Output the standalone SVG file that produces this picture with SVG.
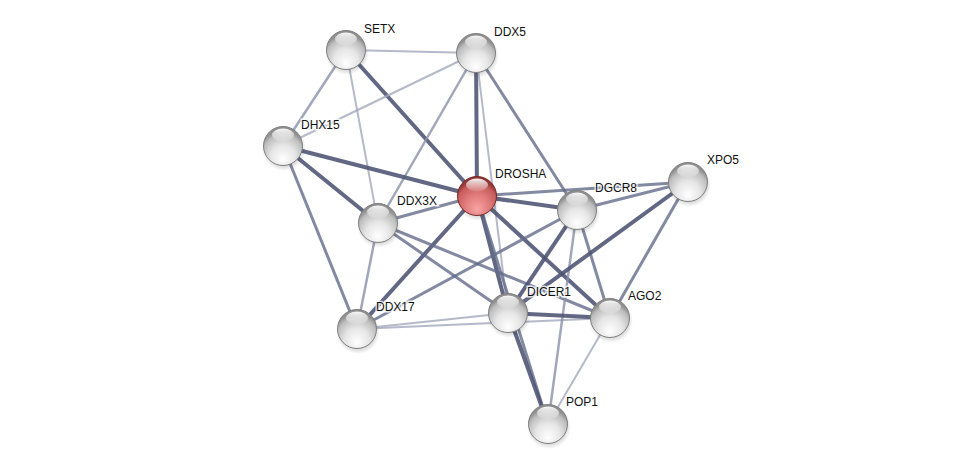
<svg xmlns="http://www.w3.org/2000/svg" width="976" height="469" viewBox="0 0 976 469">
<defs>
<radialGradient id="gGray" cx="50%" cy="72%" r="62%" fx="50%" fy="85%">
<stop offset="0" stop-color="#ffffff"/>
<stop offset="0.5" stop-color="#e6e6e6"/>
<stop offset="0.85" stop-color="#bdbdbd"/>
<stop offset="1" stop-color="#8f8f8f"/>
</radialGradient>
<radialGradient id="gRed" cx="50%" cy="72%" r="62%" fx="50%" fy="85%">
<stop offset="0" stop-color="#f7a4a4"/>
<stop offset="0.5" stop-color="#e27c7c"/>
<stop offset="0.85" stop-color="#c75c5c"/>
<stop offset="1" stop-color="#923636"/>
</radialGradient>
<linearGradient id="gHi" x1="0" y1="0" x2="0" y2="1">
<stop offset="0" stop-color="#ffffff" stop-opacity="0.95"/>
<stop offset="1" stop-color="#ffffff" stop-opacity="0.1"/>
</linearGradient>
<radialGradient id="gShadow" cx="50%" cy="50%" r="50%">
<stop offset="0.6" stop-color="#000" stop-opacity="0.25"/>
<stop offset="1" stop-color="#000" stop-opacity="0"/>
</radialGradient>
<g id="sphere">
<circle cx="1" cy="3" r="22" fill="url(#gShadow)"/>
<circle r="19.5" fill="url(#gGray)" stroke="#808080" stroke-width="1"/>
<ellipse cx="0" cy="-11" rx="11" ry="6.5" fill="url(#gHi)"/>
</g>
<g id="sphereRed">
<circle cx="1" cy="3" r="22" fill="url(#gShadow)"/>
<circle r="19.5" fill="url(#gRed)" stroke="#7a2a2a" stroke-width="1"/>
<ellipse cx="0" cy="-11" rx="11" ry="6.5" fill="url(#gHi)"/>
</g>
</defs>
<style>
.e{fill:none;stroke-linecap:round}
.k{stroke:#4c5372;stroke-width:4;stroke-opacity:0.88}
.m{stroke:#646b8a;stroke-width:3;stroke-opacity:0.8}
.n{stroke:#8a90aa;stroke-width:2.5;stroke-opacity:0.8}
.l{stroke:#a3a7bc;stroke-width:2;stroke-opacity:0.8}
text{font-family:"Liberation Sans",Arial,sans-serif;font-size:12px;fill:#111;paint-order:stroke;stroke:#ffffff;stroke-width:3px;stroke-opacity:0.8}
</style>
<rect width="976" height="469" fill="#ffffff"/>
<g id="edges" class="e">
<line class="e l" x1="346" y1="50" x2="476" y2="53"/>
<line class="e n" x1="346" y1="50" x2="283" y2="146"/>
<line class="e l" x1="346" y1="50" x2="378" y2="223"/>
<line class="e k" x1="346" y1="50" x2="477" y2="196"/>
<line class="e l" x1="476" y1="53" x2="283" y2="146"/>
<line class="e n" x1="476" y1="53" x2="378" y2="223"/>
<line class="e k" x1="476" y1="53" x2="477" y2="196"/>
<line class="e l" x1="476" y1="53" x2="508" y2="313"/>
<line class="e m" x1="476" y1="53" x2="577" y2="210"/>
<line class="e k" x1="283" y1="146" x2="477" y2="196"/>
<line class="e k" x1="283" y1="146" x2="378" y2="223"/>
<line class="e m" x1="283" y1="146" x2="357" y2="329"/>
<line class="e m" x1="477" y1="196" x2="378" y2="223"/>
<line class="e k" x1="477" y1="196" x2="577" y2="210"/>
<line class="e m" x1="477" y1="196" x2="688" y2="182"/>
<line class="e k" x1="477" y1="196" x2="357" y2="329"/>
<line class="e k" x1="477" y1="196" x2="508" y2="313"/>
<line class="e k" x1="477" y1="196" x2="610" y2="318"/>
<line class="e m" x1="477" y1="196" x2="548" y2="424"/>
<line class="e m" x1="378" y1="223" x2="508" y2="313"/>
<line class="e m" x1="378" y1="223" x2="610" y2="318"/>
<line class="e n" x1="378" y1="223" x2="357" y2="329"/>
<line class="e m" x1="357" y1="329" x2="577" y2="210"/>
<line class="e l" x1="357" y1="329" x2="508" y2="313"/>
<line class="e l" x1="357" y1="329" x2="610" y2="318"/>
<line class="e m" x1="577" y1="210" x2="688" y2="182"/>
<line class="e k" x1="577" y1="210" x2="508" y2="313"/>
<line class="e m" x1="577" y1="210" x2="610" y2="318"/>
<line class="e n" x1="577" y1="210" x2="548" y2="424"/>
<line class="e k" x1="688" y1="182" x2="508" y2="313"/>
<line class="e m" x1="688" y1="182" x2="610" y2="318"/>
<line class="e k" x1="508" y1="313" x2="610" y2="318"/>
<line class="e l" x1="610" y1="318" x2="548" y2="424"/>
<line class="e k" x1="508" y1="313" x2="548" y2="424"/>
</g>
<g id="SETX"><use href="#sphere" x="346" y="50"/><text x="364" y="33">SETX</text></g>
<g id="DDX5"><use href="#sphere" x="476" y="53"/><text x="494" y="36">DDX5</text></g>
<g id="DHX15"><use href="#sphere" x="283" y="146"/><text x="301" y="129">DHX15</text></g>
<g id="DDX3X"><use href="#sphere" x="378" y="223"/><text x="397" y="205">DDX3X</text></g>
<g id="DDX17"><use href="#sphere" x="357" y="329"/><text x="376" y="311">DDX17</text></g>
<g id="DGCR8"><use href="#sphere" x="577" y="210"/><text x="595" y="192">DGCR8</text></g>
<g id="XPO5"><use href="#sphere" x="688" y="182"/><text x="707" y="164">XPO5</text></g>
<g id="DICER1"><use href="#sphere" x="508" y="313"/><text x="527" y="296">DICER1</text></g>
<g id="AGO2"><use href="#sphere" x="610" y="318"/><text x="628" y="300">AGO2</text></g>
<g id="POP1"><use href="#sphere" x="548" y="424"/><text x="566" y="406">POP1</text></g>
<g id="DROSHA"><use href="#sphereRed" x="477" y="196"/><text x="495" y="178">DROSHA</text></g>
</svg>
